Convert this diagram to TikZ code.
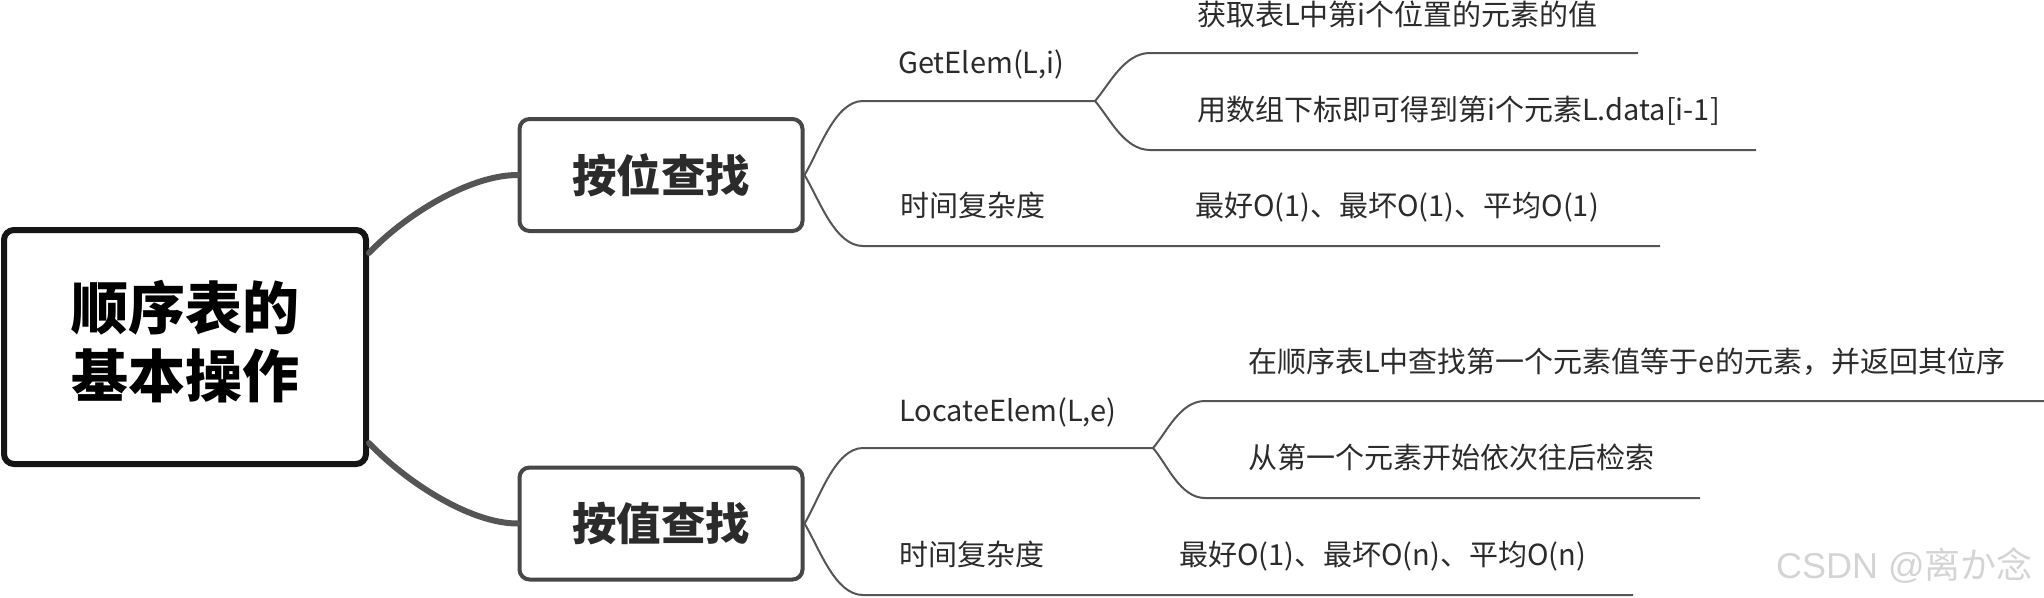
\documentclass[tikz,border=0pt]{standalone}
\usepackage{fontspec}
\setmainfont{Noto Sans CJK SC}
\newfontfamily\wmlat{Liberation Sans}
\definecolor{linec}{HTML}{555555}
\definecolor{boxc}{HTML}{474747}
\definecolor{rootc}{HTML}{151515}
\definecolor{txtc}{HTML}{2B2B2B}
\definecolor{wmc}{HTML}{D4D4D4}
\tikzset{
  thinline/.style={draw=linec, line width=2pt},
  thickline/.style={draw=linec, line width=6pt},
  rootbox/.style={draw=rootc, line width=6pt, rounded corners=10pt, fill=white,
     minimum width=362pt, minimum height=234pt, inner sep=0pt},
  roottext/.style={inner sep=0pt, align=center,
     font=\bfseries\fontsize{57}{68}\selectfont, text=black},
  subbox/.style={draw=boxc, line width=4pt, rounded corners=10pt, fill=white,
     minimum width=283pt, minimum height=112pt, inner sep=0pt,
     font=\bfseries\fontsize{44.5}{50}\selectfont, text=txtc},
  lbl/.style={anchor=west, inner sep=0pt, text height=0.83em, text depth=0.07em,
     font=\fontsize{29}{34}\selectfont, text=txtc},
}
\begin{document}
\begin{tikzpicture}[x=1pt, y=-1pt]
\useasboundingbox (0,0) rectangle (2044,597);
% main nodes
\node[rootbox] (root) at (185,347) {};
\node[roottext] (roottxt) at (185,342) {顺序表的\\基本操作};
\node[subbox] (b1) at (661,175) {按位查找};
\node[subbox] (b2) at (661,523.5) {按值查找};
% named points
\coordinate (r1) at (369,253);
\coordinate (r2) at (369,443);
\coordinate (g1s) at (863,101);
\coordinate (g1e) at (1095,101);
\coordinate (l1s) at (1150,53);
\coordinate (l1e) at (1638,53);
\coordinate (l2s) at (1150,150);
\coordinate (l2e) at (1756,150);
\coordinate (t1s) at (863,246);
\coordinate (t1e) at (1660,246);
\coordinate (g2s) at (863,448);
\coordinate (g2e) at (1153,448);
\coordinate (l3s) at (1205,401);
\coordinate (l3e) at (2044,401);
\coordinate (l4s) at (1205,498);
\coordinate (l4e) at (1700,498);
\coordinate (t2s) at (863,595);
\coordinate (t2e) at (1633,595);
% thick connectors
\draw[thickline, line cap=round] (r1) .. controls +(36,-38) and +(-48,0) .. (b1.west);
\draw[thickline, line cap=round] (r2) .. controls +(36,38) and +(-48,0) .. (b2.west);
% top group
\draw[thinline] (b1.east) .. controls +(15,-25) and +(-28,0) .. (g1s) -- (g1e);
\draw[thinline] (b1.east) .. controls +(15,25) and +(-28,0) .. (t1s) -- (t1e);
\draw[thinline] (g1e) .. controls +(14,-16) and +(-26,0) .. (l1s) -- (l1e);
\draw[thinline] (g1e) .. controls +(14,16) and +(-26,0) .. (l2s) -- (l2e);
% bottom group
\draw[thinline] (b2.east) .. controls +(15,-25) and +(-28,0) .. (g2s) -- (g2e);
\draw[thinline] (b2.east) .. controls +(15,25) and +(-28,0) .. (t2s) -- (t2e);
\draw[thinline] (g2e) .. controls +(14,-16) and +(-25,0) .. (l3s) -- (l3e);
\draw[thinline] (g2e) .. controls +(14,16) and +(-25,0) .. (l4s) -- (l4e);
% labels
\node[lbl] (ge) at (898,70) {GetElem(L,i)};
\node[lbl] (ge1) at (1197,22) {获取表L中第i个位置的元素的值};
\node[lbl] (ge2) at (1197,117) {用数组下标即可得到第i个元素L.data[i-1]};
\node[lbl] (tc1) at (900,213) {时间复杂度};
\node[lbl] (tc1v) at (1195,213) {最好O(1)、最坏O(1)、平均O(1)};
\node[lbl] (le) at (899,418) {LocateElem(L,e)};
\node[lbl] (le1) at (1248,369) {在顺序表L中查找第一个元素值等于e的元素，并返回其位序};
\node[lbl] (le2) at (1248,465) {从第一个元素开始依次往后检索};
\node[lbl] (tc2) at (899,562) {时间复杂度};
\node[lbl] (tc2v) at (1179,562) {最好O(1)、最坏O(n)、平均O(n)};
% watermark
\node[anchor=west, inner sep=0pt, text=wmc, font=\fontsize{36}{40}\selectfont] (wm) at (1776,566) {{\wmlat CSDN @}离か念};
\end{tikzpicture}
\end{document}
